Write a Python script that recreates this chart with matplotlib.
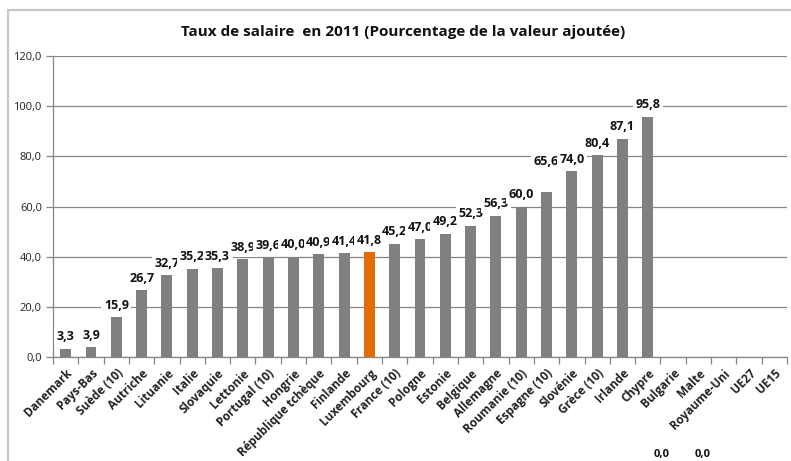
import matplotlib
matplotlib.use("Agg")
import matplotlib.pyplot as plt
from matplotlib.patches import Rectangle

plt.rcParams['font.family'] = ['Open Sans', 'DejaVu Sans']

countries = ["Danemark", "Pays-Bas", "Suède (10)", "Autriche", "Lituanie", "Italie",
             "Slovaquie", "Lettonie", "Portugal (10)", "Hongrie", "République tchèque",
             "Finlande", "Luxembourg", "France (10)", "Pologne", "Estonie", "Belgique",
             "Allemagne", "Roumanie (10)", "Espagne (10)", "Slovénie", "Grèce (10)",
             "Irlande", "Chypre", "Bulgarie", "Malte", "Royaume-Uni", "UE27", "UE15"]
values = [3.3, 3.9, 15.9, 26.7, 32.7, 35.2, 35.3, 38.9, 39.6, 40.0, 40.9, 41.4, 41.8,
          45.2, 47.0, 49.2, 52.3, 56.3, 60.0, 65.6, 74.0, 80.4, 87.1, 95.8,
          None, None, None, None, None]
highlight = "Luxembourg"
title = "Taux de salaire  en 2011 (Pourcentage de la valeur ajoutée)"
yticks = [0, 20, 40, 60, 80, 100, 120]
stray_labels = ["0,0", "0,0"]

W, H = 791, 461
fig = plt.figure(figsize=(W / 100, H / 100), dpi=100)
fig.patch.set_facecolor("white")

# outer chart frame (partially cropped)
fig.patches.append(Rectangle((8 / W, -0.1), 1.2, (H - 10) / H + 0.1,
                             transform=fig.transFigure, fill=False,
                             edgecolor="#c8c8c8", linewidth=1.6, zorder=0))

ax = fig.add_axes([53 / W, (H - 357) / H, (787 - 53) / W, (357 - 56) / H])

grid_c = "#868686"
n = len(countries)
xs = list(range(n))
for i, (c, v) in enumerate(zip(countries, values)):
    if v is None:
        continue
    col = "#e36c09" if c == highlight else "#808080"
    ax.bar(i, v, width=0.43, color=col, zorder=3)

ax.set_xlim(-0.5, n - 0.5)
ax.set_ylim(0, 120)
ax.set_yticks(yticks)
ax.set_yticklabels([f"{t:.1f}".replace(".", ",") for t in yticks], fontsize=8, color="#222222")
ax.yaxis.grid(True, color=grid_c, linewidth=0.9, zorder=0)
ax.set_axisbelow(True)

ax.set_xticks(xs)
ax.set_xticklabels(countries, rotation=45, ha="right", rotation_mode="anchor",
                   fontsize=8.5, fontweight="bold", color="#222222")
ax.tick_params(axis="x", length=0, pad=7)
ax.set_xticks([i - 0.5 for i in range(n + 1)], minor=True)
ax.tick_params(axis="x", which="minor", length=5, color=grid_c, width=0.9)
ax.tick_params(axis="y", length=5, color=grid_c, width=0.9, pad=3)

for s in ["top", "right"]:
    ax.spines[s].set_visible(False)
for s in ["left", "bottom"]:
    ax.spines[s].set_color(grid_c)
    ax.spines[s].set_linewidth(0.9)

# data labels
for i, (c, v) in enumerate(zip(countries, values)):
    if v is None:
        continue
    extra = 0
    if c == "Espagne (10)":
        extra = 14
    ax.annotate(f"{v:.1f}".replace(".", ","), (i, v), xytext=(0, 6 + extra),
                textcoords="offset points", ha="center", va="baseline",
                fontsize=9, fontweight="bold", color="#111111", zorder=5,
                bbox=dict(boxstyle="square,pad=0.2", facecolor="white", edgecolor="none"))

fig.text(0.5 * (178 + 628) / W, (H - 32) / H, title, ha="center", va="center",
         fontsize=11, fontweight="bold", color="#111111")

for xpx, lab in zip([662, 703], stray_labels):
    fig.text(xpx / W, (H - 449) / H, lab, ha="center", va="top",
             fontsize=8, fontweight="bold", color="#111111")

fig.savefig("out.png", dpi=100, facecolor="white")
